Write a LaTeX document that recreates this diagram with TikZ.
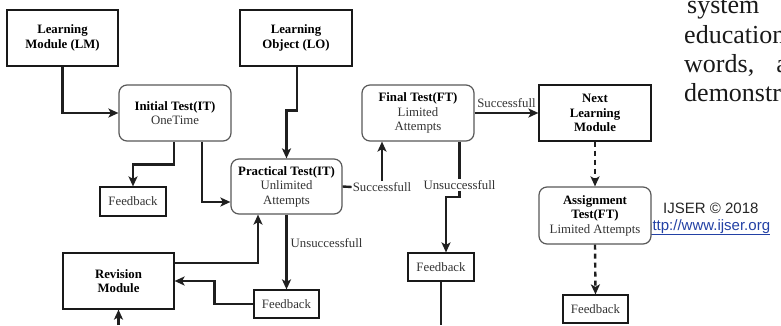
\documentclass[tikz,border=0pt]{standalone}
\usepackage{fontspec}
\setmainfont{Liberation Serif}
\newfontfamily\sansf{Liberation Sans}
\usetikzlibrary{arrows.meta,calc}
\definecolor{urlblue}{RGB}{35,65,165}
\begin{document}
\begin{tikzpicture}[x=1pt,y=-1pt,
  font=\fontsize{12.8}{14.5}\selectfont,
  rectbox/.style={draw=black!90, line width=1.2pt, fill=white, align=center,
    inner sep=0pt, text=black},
  rbox/.style={rectbox, draw=black!65, rounded corners=8pt},
  fbbox/.style={rectbox, minimum width=65, minimum height=28, text=black!80},
  wire/.style={line width=2.4pt, draw=black!88},
  conn/.style={wire, -{Stealth[length=10pt,width=9pt,inset=2.5pt]}},
  lbl/.style={fill=white, inner sep=1pt, text=black!80},
  side/.style={anchor=base west, font=\fontsize{26}{29}\selectfont, inner sep=0pt, text=black!90}]
\useasboundingbox (0,0) rectangle (781,325);
\clip (0,0) rectangle (781,325);
\fill[white] (0,0) rectangle (781,325);

% page text around the figure
\node[side] (t1) at (687,13) {system\hspace{22pt}a};
\node[side] (t2) at (684,43) {education};
\node[side] (t3) at (684,72) {words,\hspace{22pt}a};
\node[side] (t4) at (684,101) {demonstrate};
\node[anchor=base west, inner sep=0pt, font=\sansf\fontsize{15}{17}\selectfont, text=black!85] (ij) at (663,213) {IJSER © 2018};
\node[anchor=base west, inner sep=0pt, font=\sansf\fontsize{15}{17}\selectfont, text=urlblue] (url) at (644,230) {\underline{http://www.ijser.org}};

% boxes
\node[rectbox, minimum width=111, minimum height=56] (LM) at (62.5,38) {\bfseries Learning\\\bfseries Module (LM)};
\node[rectbox, minimum width=112, minimum height=56] (LO) at (296,38) {\bfseries Learning\\\bfseries Object (LO)};
\node[rbox, minimum width=112, minimum height=56] (IT) at (175,113) {\bfseries Initial Test(IT)\\\color{black!80}OneTime};
\node[rbox, minimum width=111, minimum height=55] (PT) at (286.5,186.5) {\bfseries Practical Test(IT)\\\color{black!80}Unlimited\\\color{black!80}Attempts};
\node[rbox, minimum width=112, minimum height=56] (FT) at (418,113) {\bfseries Final Test(FT)\\\color{black!80}Limited\\\color{black!80}Attempts};
\node[rectbox, minimum width=112, minimum height=56] (NLM) at (595,113) {\bfseries Next\\\bfseries Learning\\\bfseries Module};
\node[rbox, minimum width=112, minimum height=57] (AT) at (595,215.5) {\bfseries Assignment\\\bfseries Test(FT)\\\color{black!80}Limited Attempts};
\node[rectbox, minimum width=111, minimum height=56] (RM) at (118.5,281) {\bfseries Revision\\\bfseries Module};
\node[fbbox, minimum width=66, minimum height=29] (FB1) at (133,201.5) {Feedback};
\node[fbbox] (FB2) at (286.5,304) {Feedback};
\node[fbbox, minimum width=66] (FB3) at (441,267) {Feedback};
\node[fbbox] (FB4) at (595.5,309) {Feedback};

% labels on connectors
\node[lbl] (S1) at (382,187) {Successfull};
\node[lbl] (U1) at (459.5,185) {Unsuccessfull};

% connectors
\draw[conn] (LM.south) |- (IT.west);
\draw[conn] ($(IT.south)+(-1,0)$) -- ++(0,23) -| (FB1.north);
\draw[conn] ($(IT.south)+(27,0)$) |- ($(PT.west)+(0,15.5)$);
\draw[conn] ($(LO.south)+(1,0)$) -- ++(0,44) -| (PT.north);
\draw[wire] (PT.east) -- (S1.west);
\draw[conn] (S1.north) -- (S1.north |- FT.south);
\draw[wire] (U1.north |- FT.south) -- (U1.north);
\draw[conn] (U1.south) -- ++(0,6) -| ($(FB3.north)+(5,0)$);
\coordinate (E1) at (441,325);
\draw[wire] (FB3.south) -- (E1);
\draw[conn] (FT.east) -- node[above, yshift=3pt, inner sep=1pt, text=black!80] {Successfull} (NLM.west);
\draw[conn, dash pattern=on 5pt off 4pt] (NLM.south) -- (AT.north);
\draw[conn, dash pattern=on 5pt off 4pt] (AT.south) -- (FB4.north);
\draw[conn] (PT.south) -- node[pos=0.38, anchor=west, inner sep=3pt, text=black!80] {Unsuccessfull} (FB2.north);
\draw[conn] ($(RM.east)+(0,-18)$) -| ($(PT.south)+(-28.5,0)$);
\draw[conn] (FB2.west) -- ++(-39,0) |- (RM.east);
\coordinate (E2) at (118.5,325);
\draw[conn] (E2) -- (RM.south);
\end{tikzpicture}
\end{document}
